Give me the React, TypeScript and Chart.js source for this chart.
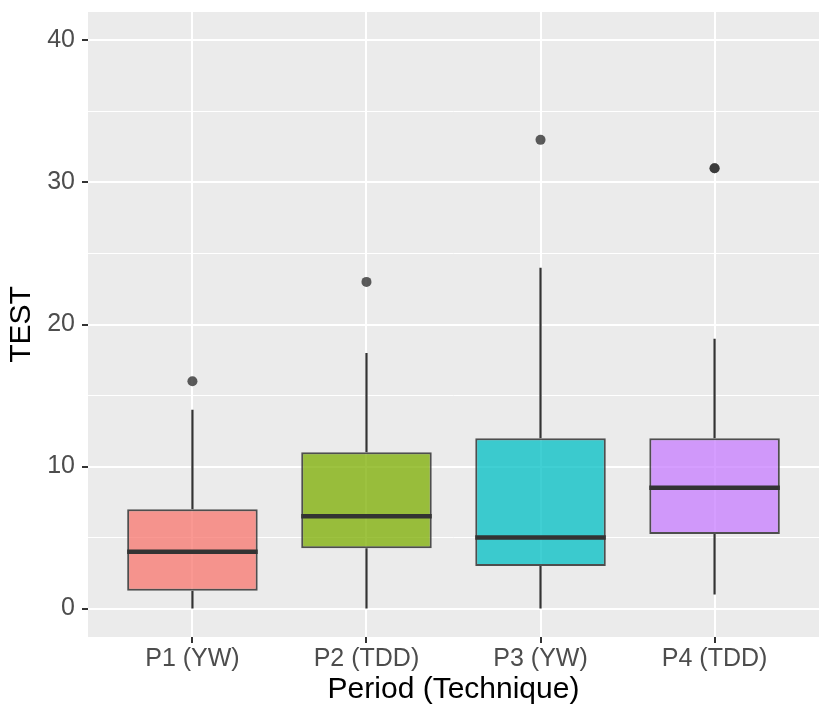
import React, { useEffect, useRef } from 'react';
import { Chart, registerables } from 'chart.js';

Chart.register(...registerables);

const categories = ['P1 (YW)', 'P2 (TDD)', 'P3 (YW)', 'P4 (TDD)'];
const lowerWhisker = [0, 0, 0, 1];
const q1 = [1.25, 4.25, 3, 5.25];
const median = [4, 6.5, 5, 8.5];
const q3 = [7, 11, 12, 12];
const upperWhisker = [14, 18, 24, 19];
const outliers = [[16], [23], [33], [31, 31]];
const yTicks = [0, 5, 10, 15, 20, 25, 30, 35, 40];

const fills = [
  'rgba(248,118,109,0.75)',
  'rgba(124,174,0,0.75)',
  'rgba(0,191,196,0.75)',
  'rgba(199,124,255,0.75)',
];
const boxWidth = 0.75;
const FONT = '"Liberation Sans", Arial, Helvetica, sans-serif';

const panelBg = {
  id: 'panelBg',
  beforeDraw(chart: any) {
    const { ctx, chartArea: a } = chart;
    ctx.save();
    ctx.fillStyle = '#EBEBEB';
    ctx.fillRect(a.left, a.top, a.right - a.left, a.bottom - a.top);
    ctx.restore();
  },
};

export default function App() {
  const ref = useRef<HTMLCanvasElement | null>(null);

  useEffect(() => {
    document.body.style.margin = '0';
    if (!ref.current) return;
    const ctx = ref.current.getContext('2d');
    if (!ctx) return;

    const medianPts: any[] = [];
    const whiskerPts: any[] = [];
    const outlierPts: any[] = [];
    categories.forEach((_, i) => {
      const x = i + 1;
      medianPts.push({ x: x - boxWidth / 2, y: median[i] }, { x: x + boxWidth / 2, y: median[i] }, { x, y: null });
      whiskerPts.push({ x, y: q3[i] }, { x, y: upperWhisker[i] }, { x, y: null });
      whiskerPts.push({ x, y: lowerWhisker[i] }, { x, y: q1[i] }, { x, y: null });
      outliers[i].forEach((v) => outlierPts.push({ x, y: v }));
    });

    const chart = new Chart(ctx, {
      type: 'bar',
      data: {
        datasets: [
          {
            type: 'line',
            data: medianPts,
            borderColor: '#333333',
            borderWidth: 4.5,
            pointRadius: 0,
            spanGaps: false,
            order: 0,
          } as any,
          {
            type: 'scatter',
            data: outlierPts,
            backgroundColor: 'rgba(51,51,51,0.8)',
            borderWidth: 0,
            pointRadius: 5,
            order: 1,
          } as any,
          {
            type: 'bar',
            data: categories.map((_, i) => ({ x: i + 1, y: [q1[i], q3[i]] })),
            backgroundColor: fills,
            borderColor: 'rgba(51,51,51,0.85)',
            borderWidth: 2,
            borderSkipped: false,
            categoryPercentage: 1,
            barPercentage: boxWidth,
            order: 2,
          } as any,
          {
            type: 'line',
            data: whiskerPts,
            borderColor: '#333333',
            borderWidth: 2.2,
            pointRadius: 0,
            spanGaps: false,
            order: 3,
          } as any,
        ],
      },
      options: {
        animation: false,
        responsive: false,
        layout: { padding: { top: 12, right: 11, left: 0, bottom: 0 } },
        plugins: { legend: { display: false }, tooltip: { enabled: false } },
        scales: {
          x: {
            type: 'linear',
            min: 0.4,
            max: 4.6,
            offset: false,
            afterFit: (s: any) => { s.height = 82; s.paddingLeft = 0; s.paddingRight = 0; },
            afterBuildTicks: (s: any) => { s.ticks = categories.map((_, i) => ({ value: i + 1 })); },
            grid: { offset: false, color: '#FFFFFF', lineWidth: 2, tickLength: 6, tickColor: '#333333', tickWidth: 2 },
            border: { display: false },
            ticks: {
              autoSkip: false,
              maxRotation: 0,
              padding: 1,
              color: '#4D4D4D',
              font: { family: FONT, size: 25, lineHeight: 1.2 },
              callback: (v: any) => categories[Math.round(v) - 1] ?? '',
            },
            title: {
              display: true,
              text: 'Period (Technique)',
              color: '#000000',
              font: { family: FONT, size: 30, lineHeight: 1.2 },
              padding: { top: 0, bottom: 11 },
            },
          },
          y: {
            type: 'linear',
            min: -2,
            max: 42,
            beginAtZero: false,
            afterFit: (s: any) => { s.width = 88; s.paddingTop = 0; s.paddingBottom = 0; },
            afterBuildTicks: (s: any) => { s.ticks = yTicks.map((v) => ({ value: v })); },
            grid: {
              color: '#FFFFFF',
              lineWidth: (c: any) => (c.tick && c.tick.value % 10 === 0 ? 2 : 1),
              tickLength: 6,
              tickColor: (c: any) => (c.tick && c.tick.value % 10 === 0 ? '#333333' : 'rgba(0,0,0,0)'),
              tickWidth: 2,
            },
            border: { display: false },
            ticks: {
              autoSkip: false,
              padding: 7,
              color: '#4D4D4D',
              font: { family: FONT, size: 25, lineHeight: 1.2 },
              callback: (v: any) => (v % 10 === 0 ? String(v) : ''),
            },
            title: {
              display: true,
              text: 'TEST',
              color: '#000000',
              font: { family: FONT, size: 30, lineHeight: 1.2 },
              padding: { top: 4, bottom: 0 },
            },
          },
        },
      } as any,
      plugins: [panelBg],
    });
    return () => chart.destroy();
  }, []);

  return (
    <div style={{ width: 830, height: 719 }}>
      <canvas ref={ref} width={830} height={719} />
    </div>
  );
}
